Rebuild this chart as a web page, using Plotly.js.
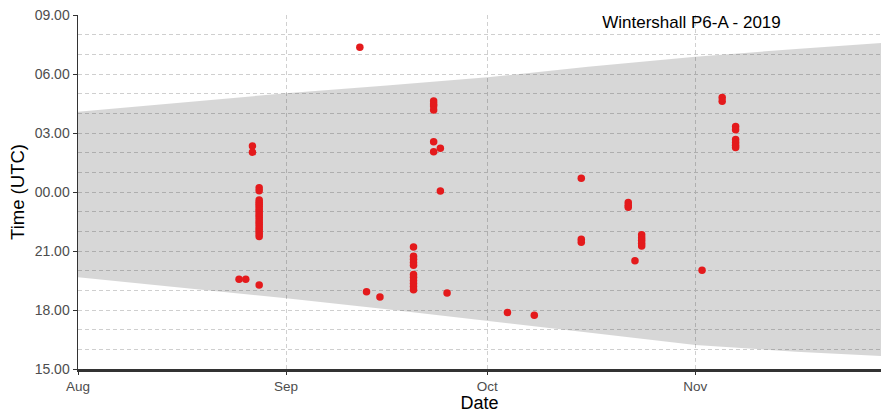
<!DOCTYPE html>
<html>
<head>
<meta charset="utf-8">
<script src="https://cdn.plot.ly/plotly-3.0.1.min.js"></script>
<style>html,body{margin:0;padding:0;background:#fff;}#chart{width:881px;height:413px;}</style>
</head>
<body>
<div id="chart"></div>
<script>
// Night band (sunset -> sunrise), hours on a continuous 15..33 scale (24 = midnight)
const bandDates   = ['2019-08-01','2019-08-16','2019-09-01','2019-09-16','2019-10-01','2019-10-16','2019-11-01','2019-11-16','2019-11-29'];
const sunsetHours = [19.66, 19.15, 18.60, 18.04, 17.46, 16.85, 16.22, 15.88, 15.65];
const sunriseHours= [28.08, 28.54, 29.02, 29.42, 29.83, 30.37, 30.88, 31.27, 31.58];

// Detections
const detDates = [
  '2019-08-25','2019-08-26',
  '2019-08-27','2019-08-27',
  '2019-08-28','2019-08-28','2019-08-28','2019-08-28','2019-08-28','2019-08-28','2019-08-28','2019-08-28','2019-08-28','2019-08-28',
  '2019-08-28','2019-08-28','2019-08-28','2019-08-28','2019-08-28','2019-08-28','2019-08-28','2019-08-28','2019-08-28','2019-08-28',
  '2019-09-12','2019-09-13','2019-09-15',
  '2019-09-20','2019-09-20','2019-09-20','2019-09-20','2019-09-20','2019-09-20','2019-09-20','2019-09-20','2019-09-20','2019-09-20','2019-09-20',
  '2019-09-23','2019-09-23','2019-09-23','2019-09-23','2019-09-23','2019-09-23',
  '2019-09-24','2019-09-24','2019-09-25',
  '2019-10-04','2019-10-08',
  '2019-10-15','2019-10-15','2019-10-15',
  '2019-10-22','2019-10-22','2019-10-22',
  '2019-10-23',
  '2019-10-24','2019-10-24','2019-10-24','2019-10-24','2019-10-24',
  '2019-11-02',
  '2019-11-05','2019-11-05',
  '2019-11-07','2019-11-07','2019-11-07','2019-11-07','2019-11-07','2019-11-07'
];
const detHours = [
  19.56, 19.56,
  26.34, 26.02,
  24.22, 24.06, 23.59, 23.48, 23.38, 23.27, 23.15, 23.05, 22.93, 22.82,
  22.70, 22.58, 22.46, 22.35, 22.22, 22.10, 21.98, 21.86, 21.74, 19.27,
  31.36, 18.93, 18.66,
  21.20, 20.73, 20.58, 20.42, 20.27, 19.80, 19.66, 19.50, 19.35, 19.20, 19.03,
  28.63, 28.47, 28.37, 28.17, 26.56, 26.05,
  26.22, 24.05, 18.87,
  17.87, 17.73,
  24.70, 21.60, 21.45,
  23.46, 23.32, 23.22,
  20.51,
  21.82, 21.68, 21.55, 21.40, 21.26,
  20.02,
  28.81, 28.62,
  27.33, 27.17, 26.67, 26.52, 26.38, 26.26
];

const yTickVals  = [15, 18, 21, 24, 27, 30, 33];
const yTickText  = ['15.00','18.00','21.00','00.00','03.00','06.00','09.00'];
const xTickVals  = ['2019-08-01','2019-09-01','2019-10-01','2019-11-01'];
const xTickText  = ['Aug','Sep','Oct','Nov'];
const titleText  = 'Wintershall P6-A - 2019';

const font = 'Liberation Sans, Arial, sans-serif';

const traces = [
  {x: bandDates, y: sunsetHours, type: 'scatter', mode: 'lines', line: {width: 0}, hoverinfo: 'skip', showlegend: false},
  {x: bandDates, y: sunriseHours, type: 'scatter', mode: 'lines', line: {width: 0}, fill: 'tonexty',
   fillcolor: 'rgba(0,0,0,0.155)', hoverinfo: 'skip', showlegend: false},
  {x: detDates, y: detHours, type: 'scatter', mode: 'markers',
   marker: {color: '#e41a1c', size: 7.5, line: {width: 0}}, showlegend: false}
];

const layout = {
  width: 881, height: 413,
  margin: {l: 78, r: 0, t: 15, b: 44},
  paper_bgcolor: '#fff', plot_bgcolor: '#fff',
  font: {family: font, color: '#4d4d4d', size: 14},
  title: {text: titleText, font: {family: font, size: 17, color: '#000'},
          xref: 'paper', x: 0.764, xanchor: 'center', yref: 'container', y: 0.947, yanchor: 'middle'},
  xaxis: {
    type: 'date', range: ['2019-08-01', '2019-11-28 16:00'],
    tickmode: 'array', tickvals: xTickVals, ticktext: xTickText,
    ticks: 'outside', ticklen: 3, tickcolor: '#333', tickwidth: 1,
    tickfont: {family: font, size: 13.5, color: '#4d4d4d'},
    showline: true, linecolor: '#333', linewidth: 2.5,
    showgrid: true, gridcolor: '#d0d0d0', gridwidth: 1, griddash: '4px,3px',
    zeroline: false,
    title: {text: 'Date', font: {family: font, size: 18, color: '#000'}, standoff: 3}
  },
  yaxis: {
    range: [15, 33],
    tickmode: 'array', tickvals: yTickVals, ticktext: yTickText,
    ticks: 'outside', ticklen: 4, tickcolor: '#333', tickwidth: 1,
    tickfont: {family: font, size: 14, color: '#4d4d4d'},
    showline: true, linecolor: '#333', linewidth: 1.5,
    showgrid: true, gridcolor: '#cfcfcf', gridwidth: 1, griddash: '4px,3px',
    minor: {tickmode: 'linear', tick0: 15, dtick: 1, showgrid: true, gridcolor: '#cfcfcf', gridwidth: 1, griddash: '4px,3px', ticks: ''},
    zeroline: false,
    title: {text: 'Time (UTC)', font: {family: font, size: 18.5, color: '#000'}, standoff: 5}
  }
};

Plotly.newPlot('chart', traces, layout, {displayModeBar: false, staticPlot: true});
</script>
</body>
</html>
